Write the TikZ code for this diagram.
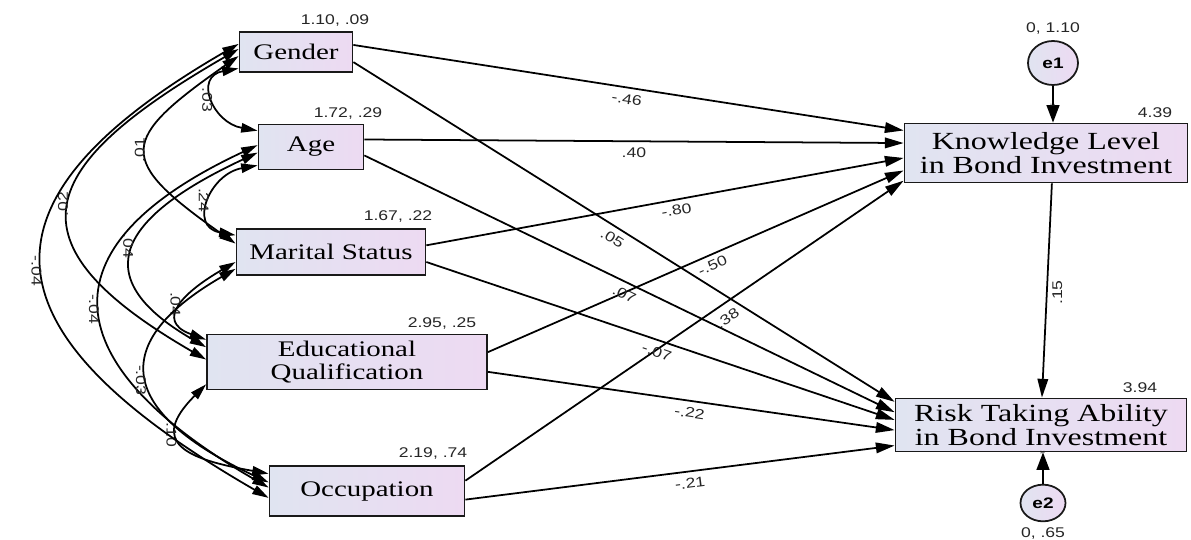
\documentclass[tikz,border=0pt]{standalone}
\usepackage{xcolor}
\usepackage{fontspec}
\setmainfont[FakeStretch=1.3]{Liberation Serif}
\newfontfamily\numfont[FakeStretch=1.25]{Liberation Sans}
\usepackage{pgf, tikz}
\usetikzlibrary{arrows.meta, shapes.geometric}

\definecolor{boxleft}{RGB}{224,228,241}
\definecolor{boxright}{RGB}{237,218,242}

\begin{document}
\begin{tikzpicture}[x=0.03cm, y=0.03cm,
    var/.style={draw=black!90, line width=1.5pt, left color=boxleft, right color=boxright, align=center, inner sep=2pt, font=\fontsize{19}{19}\selectfont},
    big/.style={font=\fontsize{21}{20}\selectfont},
    err/.style={ellipse, draw=black!90, line width=1.5pt, left color=boxleft, right color=boxright, inner sep=0pt, font=\numfont\fontsize{13}{15}\selectfont\bfseries},
    num/.style={inner sep=1pt, text=black!85, font=\numfont\fontsize{12}{14}\selectfont},
    reg/.style={line width=1.5pt, -{Triangle[length=16pt, width=9pt]}},
    errarrow/.style={line width=1.5pt, -{Triangle[length=15pt, width=11pt]}},
    cov/.style={line width=1.5pt, {Triangle[length=14pt, width=8pt]}-{Triangle[length=14pt, width=8pt]}},
    ]
    \useasboundingbox (0,0) rectangle (1191,-540);

    \node[var, minimum width=3.39cm, minimum height=1.2cm] (gender) at (296,-52) {Gender};
    \node[var, minimum width=3.15cm, minimum height=1.35cm] (age) at (311,-147) {Age};
    \node[var, minimum width=5.67cm, minimum height=1.38cm] (marital) at (331,-252) {Marital Status};
    \node[var, minimum width=8.4cm, minimum height=1.65cm] (edu) at (347,-362) {Educational\\Qualification};
    \node[var, minimum width=5.85cm, minimum height=1.5cm] (occ) at (367,-491) {Occupation};
    \node[var, big, minimum width=8.49cm, minimum height=1.77cm] (know) at (1046,-153) {Knowledge Level\\in Bond Investment};
    \node[var, big, minimum width=8.73cm, minimum height=1.59cm] (risk) at (1041,-425) {Risk Taking Ability\\in Bond Investment};
    \node[err, minimum width=1.5cm, minimum height=1.32cm] (e1) at (1053,-63) {e1};
    \node[err, minimum width=1.35cm, minimum height=1.1cm] (e2) at (1043,-503) {e2};

    \node[num] (gv) at (335,-20) {1.10, .09};
    \node[num] (av) at (348,-113) {1.72, .29};
    \node[num] (mv) at (398,-216) {1.67, .22};
    \node[num] (ev) at (442,-323) {2.95, .25};
    \node[num] (ov) at (433,-453) {2.19, .74};
    \node[num] (kv) at (1155,-113) {4.39};
    \node[num] (rv) at (1140,-388) {3.94};
    \node[num] (e1v) at (1053,-28) {0, 1.10};
    \node[num] (e2v) at (1043,-533) {0, .65};

    \draw[reg] (gender.7) -- node[num, sloped, below=4pt, pos=0.5] {-.46} (know.171);
    \draw[reg] (age.8) -- node[num, sloped, below=4pt, pos=0.5] {.40} (know.176);
    \draw[reg] (marital.4) -- node[num, sloped, below=3pt, pos=0.52] {-.80} (know.182);
    \draw[reg] (edu.4) -- node[num, sloped, below=3pt, pos=0.53] {-.50} (know.187);
    \draw[reg] (occ.6) -- node[num, sloped, below=6pt, pos=0.58] {.38} (know.191);
    \draw[reg] (gender.-10) -- node[num, sloped, below=4pt, pos=0.49] {.05} (risk.171);
    \draw[reg] (age.-9) -- node[num, sloped, below=4pt, pos=0.5] {.07} (risk.175);
    \draw[reg] (marital.-6) -- node[num, sloped, below=4pt, pos=0.5] {-.07} (risk.178);
    \draw[reg] (edu.-4.5) -- node[num, sloped, below=4pt, pos=0.5] {-.22} (risk.182);
    \draw[reg] (occ.-5) -- node[num, sloped, below=4pt, pos=0.52] {-.21} (risk.188);
    \draw[reg] (know.-79) -- node[num, rotate=90, anchor=north, pos=0.51, yshift=-3pt] {.15} (risk.88);

    \draw[errarrow] (e1) -- node[num, rotate=-90, pos=0.75, left=3pt, font=\numfont\tiny] (w1) {1} (e1 |- know.north);
    \draw[errarrow] (e2) -- node[num, rotate=-90, pos=0.75, left=3pt, font=\numfont\tiny] (w2) {1} (e2 |- risk.south);

    \draw[cov] (gender.196) to[out=190, in=170, looseness=1.8] node[num, pos=0.5, rotate=-90, anchor=north] {.03} (age.163);
    \draw[cov] (age.199) to[out=190, in=170, looseness=1.7] node[num, pos=0.5, rotate=-90, anchor=north] {.24} (marital.170);
    \draw[cov] (marital.186) to[out=210, in=160, looseness=1.75] node[num, pos=0.5, rotate=-90, anchor=north] {.04} (edu.171);
    \draw[cov] (edu.189) to[out=225, in=170, looseness=1.95] node[num, pos=0.38, rotate=-90, anchor=north] {.10} (occ.170);
    \draw[cov] (gender.184) to[out=215, in=145, looseness=2.0] node[num, pos=0.5, rotate=90, anchor=south] {.01} (marital.175);
    \draw[cov] (gender.177) to[out=210, in=150, looseness=1.92] node[num, pos=0.5, rotate=90, anchor=south] {.02} (edu.179);
    \draw[cov] (age.186) to[out=205, in=150, looseness=1.85] node[num, pos=0.5, rotate=-90, anchor=north] {.04} (edu.174);
    \draw[cov] (age.178) to[out=205, in=150, looseness=1.82] node[num, pos=0.5, rotate=-90, anchor=north] {-.04} (occ.178);
    \draw[cov] (marital.190) to[out=210, in=155, looseness=1.85] node[num, pos=0.5, rotate=-90, anchor=north] {-.03} (occ.175);
    \draw[cov] (gender.172) to[out=210, in=150, looseness=1.82] node[num, pos=0.5, rotate=-90, anchor=north] {-.04} (occ.184);
\end{tikzpicture}
\end{document}
